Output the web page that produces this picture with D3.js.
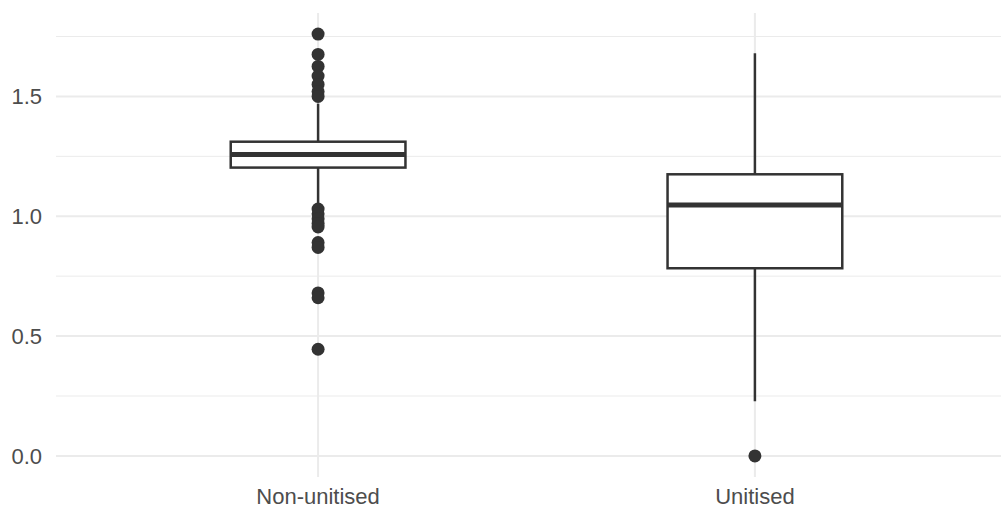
<!DOCTYPE html>
<html>
<head>
<meta charset="utf-8">
<script src="https://cdn.jsdelivr.net/npm/d3@7"></script>
<style>
  body { margin: 0; background: #fff; }
  text { font-family: "Liberation Sans", Arial, sans-serif; }
</style>
</head>
<body>
<script>
// box statistics
const categories = ["Non-unitised", "Unitised"];
const lowerWhisker = [1.05, 0.228];
const q1 = [1.203, 0.783];
const median = [1.258, 1.047];
const q3 = [1.311, 1.175];
const upperWhisker = [1.47, 1.68];
const outliersNon = [1.76, 1.675, 1.625, 1.585, 1.55, 1.52, 1.50,
                     1.03, 1.01, 0.99, 0.97, 0.955, 0.89, 0.87, 0.68, 0.66, 0.445];
const outliersUni = [0.0];
const outliers = [outliersNon, outliersUni];
const yTicks = [0, 0.5, 1.0, 1.5];
const yMinor = [0.25, 0.75, 1.25, 1.75];

const width = 1001, height = 509;
const panel = { left: 56, top: 13, bottom: 477 };

const svg = d3.select("body").append("svg")
  .attr("width", width)
  .attr("height", height);

// discrete axis, expanded by 0.6 each side like ggplot
const x = d3.scaleLinear().domain([0.4, 2.6]).range([panel.left, 1017]);
const y = d3.scaleLinear().domain([-0.088, 1.848]).range([panel.bottom, panel.top]);

const boxHalf = x(1.2) - x(1);   // box width 0.4

// grid
svg.append("g").selectAll("line")
  .data(yMinor).join("line")
  .attr("x1", panel.left).attr("x2", width)
  .attr("y1", d => y(d)).attr("y2", d => y(d))
  .attr("stroke", "#ebebeb").attr("stroke-width", 1);

svg.append("g").selectAll("line")
  .data(yTicks).join("line")
  .attr("x1", panel.left).attr("x2", width)
  .attr("y1", d => y(d)).attr("y2", d => y(d))
  .attr("stroke", "#ebebeb").attr("stroke-width", 2);

svg.append("g").selectAll("line")
  .data(categories).join("line")
  .attr("x1", (d, i) => x(i + 1)).attr("x2", (d, i) => x(i + 1))
  .attr("y1", panel.top).attr("y2", panel.bottom)
  .attr("stroke", "#ebebeb").attr("stroke-width", 2);

// tick labels
svg.append("g").selectAll("text")
  .data(yTicks).join("text")
  .attr("x", 42)
  .attr("y", d => y(d))
  .attr("dy", "0.36em")
  .attr("text-anchor", "end")
  .attr("font-size", 22)
  .attr("fill", "#4d4d4d")
  .text(d => d3.format(".1f")(d));

svg.append("g").selectAll("text")
  .data(categories).join("text")
  .attr("x", (d, i) => x(i + 1))
  .attr("y", 504)
  .attr("text-anchor", "middle")
  .attr("font-size", 22)
  .attr("fill", "#4d4d4d")
  .text(d => d);

// boxes
const col = "#333333";
const boxes = svg.append("g");
categories.forEach(function(c, i) {
  const cx = x(i + 1);
  const g = boxes.append("g");
  // whiskers
  g.append("line")
    .attr("x1", cx).attr("x2", cx)
    .attr("y1", y(q3[i])).attr("y2", y(upperWhisker[i]))
    .attr("stroke", col).attr("stroke-width", 2.5);
  g.append("line")
    .attr("x1", cx).attr("x2", cx)
    .attr("y1", y(q1[i])).attr("y2", y(lowerWhisker[i]))
    .attr("stroke", col).attr("stroke-width", 2.5);
  // box
  g.append("rect")
    .attr("x", cx - boxHalf)
    .attr("y", y(q3[i]))
    .attr("width", boxHalf * 2)
    .attr("height", y(q1[i]) - y(q3[i]))
    .attr("fill", "#fff")
    .attr("stroke", col).attr("stroke-width", 2.5);
  // median
  g.append("line")
    .attr("x1", cx - boxHalf).attr("x2", cx + boxHalf)
    .attr("y1", y(median[i])).attr("y2", y(median[i]))
    .attr("stroke", col).attr("stroke-width", 5);
  // outliers
  g.selectAll("circle")
    .data(outliers[i]).join("circle")
    .attr("cx", cx)
    .attr("cy", d => y(d))
    .attr("r", 6.5)
    .attr("fill", col);
});
</script>
</body>
</html>
